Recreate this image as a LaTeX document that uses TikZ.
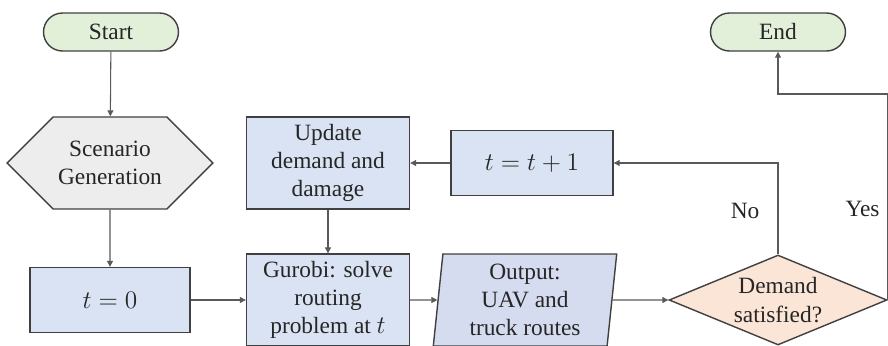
\documentclass[tikz,border=0pt]{standalone}
\usepackage{fontspec}
\setmainfont{Liberation Serif}
\usetikzlibrary{arrows.meta, positioning, shapes.geometric, shapes.symbols}
\definecolor{cline}{HTML}{595959}
\definecolor{cedge}{HTML}{404040}
\definecolor{ctext}{HTML}{262626}
\definecolor{cgreen}{HTML}{E2F0D9}
\definecolor{cgrey}{HTML}{EDEDED}
\definecolor{cblue}{HTML}{DAE3F3}
\definecolor{cviolet}{HTML}{D6DCF0}
\definecolor{cpeach}{HTML}{FBE5D6}
\tikzset{
  every picture/.style={font=\fontsize{13.3}{16}\selectfont, line width=0.6pt},
  base/.style={draw=cedge, fill=#1, text=ctext, align=center, inner sep=2pt, line width=0.8pt},
  terminal/.style={base=cgreen, rounded corners=0.38cm, minimum width=2.7cm, minimum height=0.76cm},
  process/.style={base=cblue, minimum width=3.2cm, minimum height=1.3cm},
  bigprocess/.style={base=cblue, minimum width=3.26cm, minimum height=1.84cm},
  prep/.style={base=cgrey, signal, signal to=west and east, signal pointer angle=90, minimum width=4.12cm, minimum height=1.84cm},
  io/.style={base=cviolet, trapezium, trapezium left angle=85, trapezium right angle=95, trapezium stretches=true, minimum width=3.68cm, minimum height=1.84cm},
  decision/.style={base=cpeach, diamond, aspect=2.42, minimum width=4.36cm, minimum height=1.8cm, inner sep=0pt},
  arrow/.style={-{Triangle[length=1.2mm, width=1.2mm]}, draw=cline, line width=0.6pt},
  branch/.style={text=ctext},
}
\begin{document}
\begin{tikzpicture}[x=0.02cm, y=-0.02cm]
  \useasboundingbox (0,0) rectangle (888,345);
  \clip (0,0) rectangle (888,345);

  \node[terminal] (start) at (111,32) {Start};
  \node[prep] (scen) at (110,163) {Scenario\\Generation};
  \node[process] (t0) at (110,300) {$t = 0$};
  \node[bigprocess] (update) at (328,163) {Update\\demand and\\damage};
  \node[bigprocess] (solve) at (328,300) {Gurobi: solve\\routing\\problem at $t$};
  \node[process, minimum width=3.24cm] (tnext) at (532,163) {$t = t + 1$};
  \node[io] (output) at (525,300) {Output:\\UAV and\\truck routes};
  \node[decision] (check) at (778,300) {Demand\\satisfied?};
  \node[terminal] (end) at (778,32) {End};
  \coordinate (yesbend) at (778,94);

  \draw[arrow] (start) -- (scen);
  \draw[arrow] (scen) -- (t0);
  \draw[arrow] (t0) -- (solve);
  \draw[arrow] (update) -- (solve);
  \draw[arrow] (tnext) -- (update);
  \draw[arrow] (solve) -- (output);
  \draw[arrow] (output) -- (check);
  \draw[arrow] (check.north) |- (tnext.east) node[branch, pos=0.24, left=7pt] {No};
  \draw[arrow] (check.east) |- (yesbend) node[branch, pos=0.22, left=1pt] {Yes} -- (end);
\end{tikzpicture}
\end{document}
